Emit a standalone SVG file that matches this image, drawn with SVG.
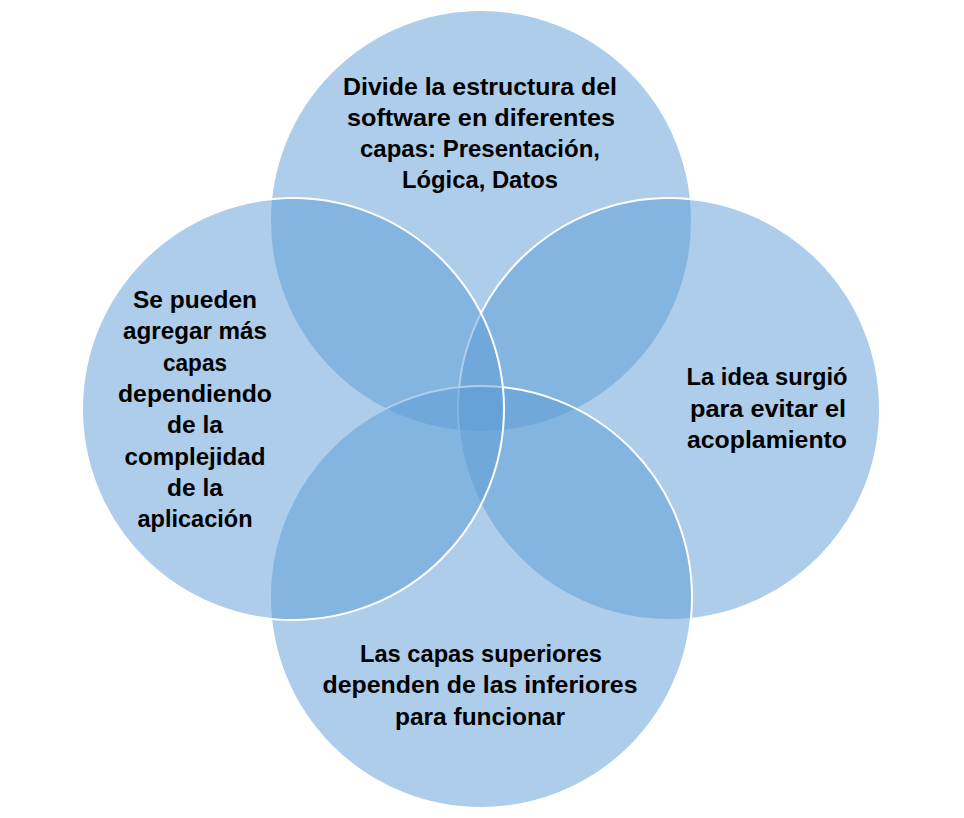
<svg xmlns="http://www.w3.org/2000/svg" width="964" height="818" viewBox="0 0 964 818">
<style>
.c{fill:#5B9BD5;fill-opacity:0.5;stroke:#FFFFFF;stroke-width:2}
.t{font-family:"Liberation Sans",Arial,sans-serif;font-weight:bold;font-size:24px;fill:#000000;text-anchor:middle}
</style>
<rect width="964" height="818" fill="#FFFFFF"/>
<g id="node-top">
<circle class="c" cx="481" cy="221" r="211"/>
</g>
<g id="node-right">
<circle class="c" cx="669" cy="409" r="211"/>
</g>
<g id="node-bottom">
<circle class="c" cx="481" cy="597" r="211"/>
</g>
<g id="node-left">
<circle class="c" cx="293" cy="409" r="211"/>
</g>
<g id="labels">
<g id="label-top">
<text class="t" x="480" y="95" textLength="274" lengthAdjust="spacingAndGlyphs">Divide la estructura del</text>
<text class="t" x="481" y="126" textLength="268" lengthAdjust="spacingAndGlyphs">software en diferentes</text>
<text class="t" x="480" y="157" textLength="240" lengthAdjust="spacingAndGlyphs">capas: Presentación,</text>
<text class="t" x="480" y="188" textLength="156" lengthAdjust="spacingAndGlyphs">Lógica, Datos</text>
</g>
<g id="label-right">
<text class="t" x="767" y="385" textLength="161" lengthAdjust="spacingAndGlyphs">La idea surgió</text>
<text class="t" x="768" y="417" textLength="156" lengthAdjust="spacingAndGlyphs">para evitar el</text>
<text class="t" x="767" y="448" textLength="160" lengthAdjust="spacingAndGlyphs">acoplamiento</text>
</g>
<g id="label-bottom">
<text class="t" x="481" y="662" textLength="242" lengthAdjust="spacingAndGlyphs">Las capas superiores</text>
<text class="t" x="480" y="693" textLength="315" lengthAdjust="spacingAndGlyphs">dependen de las inferiores</text>
<text class="t" x="480" y="725" textLength="170" lengthAdjust="spacingAndGlyphs">para funcionar</text>
</g>
<g id="label-left">
<text class="t" x="195" y="308" textLength="124" lengthAdjust="spacingAndGlyphs">Se pueden</text>
<text class="t" x="195" y="339" textLength="144" lengthAdjust="spacingAndGlyphs">agregar más</text>
<text class="t" x="195" y="371" textLength="64" lengthAdjust="spacingAndGlyphs">capas</text>
<text class="t" x="195" y="402" textLength="154" lengthAdjust="spacingAndGlyphs">dependiendo</text>
<text class="t" x="195" y="433" textLength="56" lengthAdjust="spacingAndGlyphs">de la</text>
<text class="t" x="195" y="465" textLength="141" lengthAdjust="spacingAndGlyphs">complejidad</text>
<text class="t" x="195" y="496" textLength="56" lengthAdjust="spacingAndGlyphs">de la</text>
<text class="t" x="195" y="527" textLength="115" lengthAdjust="spacingAndGlyphs">aplicación</text>
</g>
</g>
</svg>
